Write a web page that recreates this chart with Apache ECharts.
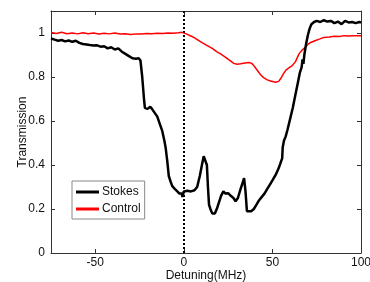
<!DOCTYPE html>
<html>
<head>
<meta charset="utf-8">
<script src="https://cdn.jsdelivr.net/npm/echarts@6/dist/echarts.min.js"></script>
<style>
  html, body { margin: 0; padding: 0; background: #fff; }
  #main { width: 370px; height: 282px; }
</style>
</head>
<body>
<div id="main"></div>
<script>
// detuning (MHz) / transmission
var stokesX = [-75, -73, -71, -69, -67, -65, -63, -61, -59, -57, -55, -53, -51, -49, -47, -45, -43, -41, -39, -37,
  -35, -33, -31, -29, -27, -25.5, -24.5, -23.5, -22.5, -22, -20.5, -19, -18, -17, -15, -13.5, -12.2, -11, -10.3, -9.4,
  -8.5, -7.5, -6.6, -5, -3.7, -2.5, -1.9, -1.2, -0.8, 0, 2, 4, 6, 7.5, 9, 10.2, 11.2, 12.3, 13, 13.6,
  14.2, 15, 16, 16.8, 17.5, 18.8, 20, 21, 22.3, 23.5, 25, 26.5, 28, 29.2, 30.5, 32, 33.2, 34, 34.8, 35.6,
  36.5, 38, 39.5, 41, 42.5, 44, 45.5, 47, 48.5, 50, 51.8, 53.5, 54.6, 55.5, 55.8, 56.5, 57.5, 58.5, 60.3, 61.5,
  63, 64.5, 65.5, 66.5, 67, 67.5, 68, 69, 70, 71, 72, 73.5, 75, 77, 79, 81, 83, 85, 87, 89,
  91, 93, 95, 97, 99, 100];
var stokesY = [0.975, 0.97, 0.965, 0.968, 0.962, 0.966, 0.96, 0.965, 0.955, 0.95, 0.948, 0.945, 0.943, 0.944, 0.938, 0.94, 0.93, 0.935, 0.925, 0.93,
  0.915, 0.905, 0.895, 0.885, 0.883, 0.885, 0.875, 0.8, 0.7, 0.66, 0.655, 0.665, 0.655, 0.655, 0.62, 0.585, 0.555, 0.51, 0.48, 0.42,
  0.35, 0.325, 0.305, 0.29, 0.28, 0.27, 0.262, 0.27, 0.255, 0.28, 0.283, 0.28, 0.285, 0.3, 0.35, 0.4, 0.44, 0.445, 0.4, 0.3,
  0.22, 0.2, 0.18, 0.173, 0.18, 0.205, 0.235, 0.26, 0.28, 0.27, 0.272, 0.26, 0.25, 0.235, 0.25, 0.29, 0.32, 0.34, 0.28, 0.19,
  0.182, 0.19, 0.2, 0.22, 0.24, 0.255, 0.27, 0.29, 0.31, 0.33, 0.355, 0.385, 0.41, 0.43, 0.48, 0.51, 0.53, 0.56, 0.62, 0.66,
  0.72, 0.78, 0.82, 0.845, 0.88, 0.86, 0.9, 0.95, 0.99, 1.02, 1.04, 1.05, 1.055, 1.05, 1.058, 1.052, 1.055, 1.045, 1.052, 1.04,
  1.055, 1.048, 1.05, 1.045, 1.05, 1.048];

var controlX = [-75, -72, -69, -66, -63, -60, -57, -54, -51, -48, -45, -42, -39, -36, -33, -30, -27, -24, -21, -18,
  -15, -12, -9, -6, -3, -1, 1, 3, 5.6, 8, 10.5, 13.2, 16, 18.5, 20.7, 23, 25.5, 28.2, 30, 32,
  34.5, 36.7, 38.3, 39.5, 41, 43.3, 45, 47.1, 49, 51.8, 53.5, 54.6, 56, 57.5, 59.5, 61.2, 63, 65, 66.5, 68.5,
  70, 71.6, 74, 76.5, 79, 82, 85, 88, 90.4, 93, 96, 100];
var controlY = [1.002, 0.998, 1.003, 0.997, 1.0, 0.996, 1.001, 0.997, 1.0, 0.995, 0.999, 0.996, 1.0, 0.995, 0.997, 0.993, 0.996, 0.995, 0.998, 0.997,
  0.999, 0.998, 1.0, 0.999, 1.001, 1.003, 0.997, 0.99, 0.98, 0.968, 0.955, 0.943, 0.93, 0.915, 0.905, 0.893, 0.878, 0.862, 0.858, 0.86,
  0.864, 0.866, 0.862, 0.852, 0.835, 0.81, 0.797, 0.787, 0.782, 0.776, 0.78, 0.792, 0.812, 0.83, 0.843, 0.852, 0.87, 0.905, 0.92, 0.935,
  0.948, 0.957, 0.965, 0.972, 0.98, 0.982, 0.985, 0.984, 0.988, 0.986, 0.988, 0.987];

var xTicks = [-50, 0, 50, 100];
var yTicks = [0, 0.2, 0.4, 0.6, 0.8, 1];

function pairs(xs, ys) {
  return xs.map(function (x, i) { return [x, ys[i]]; });
}

var font = 'Liberation Sans, Arial, sans-serif';
var frame = { show: true, onZero: false, lineStyle: { color: '#333', width: 1 } };
var innerTick = { show: true, inside: true, length: 4, lineStyle: { color: '#333' } };

var myChart = echarts.init(document.getElementById('main'));
myChart.setOption({
  animation: false,
  grid: { left: 51, right: 9, top: 11, bottom: 29, outerBoundsMode: 'none' },
  legend: {
    left: 72, top: 181,
    orient: 'vertical',
    backgroundColor: '#fff',
    borderColor: '#888', borderWidth: 1,
    padding: [4, 4, 3, 4],
    itemGap: 3,
    icon: 'rect',
    itemWidth: 23, itemHeight: 3,
    textStyle: { fontFamily: font, fontSize: 12, color: '#111', lineHeight: 14, padding: [0, 0, 0, -2] },
    data: ['Stokes', 'Control']
  },
  xAxis: [{
    type: 'value', min: -75, max: 100,
    name: 'Detuning(MHz)', nameLocation: 'middle', nameGap: 17, nameMoveOverlap: false,
    nameTextStyle: { fontFamily: font, fontSize: 12, color: '#111' },
    axisLine: frame,
    axisTick: Object.assign({ customValues: xTicks }, innerTick),
    axisLabel: { customValues: xTicks, fontFamily: font, fontSize: 12, color: '#111', margin: 4 },
    splitLine: { show: false }
  }, {
    type: 'value', min: -75, max: 100, position: 'top',
    axisLine: frame,
    axisTick: Object.assign({ customValues: xTicks }, innerTick),
    axisLabel: { show: false },
    splitLine: { show: false }
  }],
  yAxis: [{
    type: 'value', min: 0, max: 1.1,
    name: 'Transmission', nameLocation: 'middle', nameGap: 22, nameMoveOverlap: false,
    nameTextStyle: { fontFamily: font, fontSize: 12, color: '#111' },
    axisLine: frame,
    axisTick: Object.assign({ customValues: yTicks }, innerTick),
    axisLabel: { customValues: yTicks, fontFamily: font, fontSize: 12, color: '#111', margin: 6 },
    splitLine: { show: false }
  }, {
    type: 'value', min: 0, max: 1.1, position: 'right',
    axisLine: frame,
    axisTick: Object.assign({ customValues: yTicks }, innerTick),
    axisLabel: { show: false },
    splitLine: { show: false }
  }],
  series: [{
    name: 'Stokes', type: 'line',
    data: pairs(stokesX, stokesY),
    showSymbol: false,
    color: '#000',
    lineStyle: { color: '#000', width: 2.5 },
    z: 3,
    markLine: {
      silent: true, symbol: 'none',
      label: { show: false },
      lineStyle: { color: '#000', type: 'dotted', width: 2 },
      data: [{ xAxis: 0 }]
    }
  }, {
    name: 'Control', type: 'line',
    data: pairs(controlX, controlY),
    showSymbol: false,
    color: '#ff0000',
    lineStyle: { color: '#ff0000', width: 1.5 },
    z: 2
  }]
});
</script>
</body>
</html>
